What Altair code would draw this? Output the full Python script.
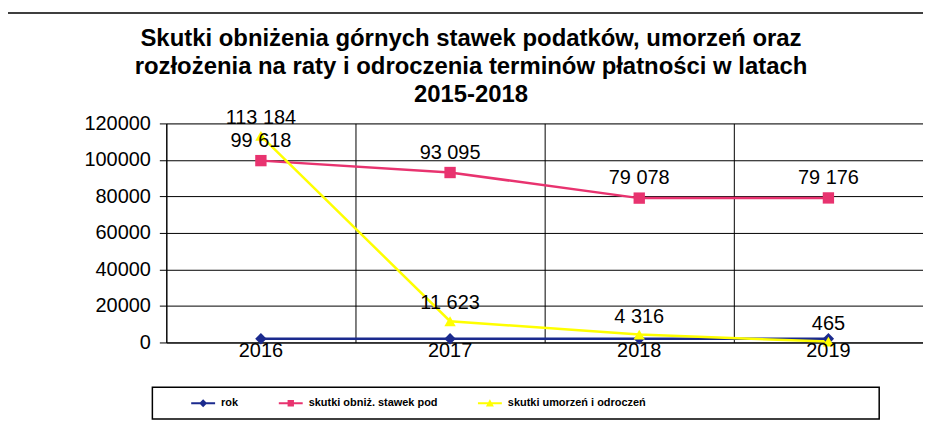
import altair as alt
import pandas as pd

years = ["2016", "2017", "2018", "2019"]
rok = [2016, 2017, 2018, 2019]
obniz = [99618, 93095, 79078, 79176]
umorz = [113184, 11623, 4316, 465]
series_names = ["rok", "skutki obniż. stawek pod", "skutki umorzeń i odroczeń"]
colors = ["#1b2a8e", "#e8336f", "#ffff00"]
shapes = ["diamond", "square", "triangle-up"]
legend_shapes = [
    "M-1.5,-0.12H1.5V0.12H-1.5ZM0,-0.5L0.5,0L0,0.5L-0.5,0Z",
    "M-1.5,-0.12H1.5V0.12H-1.5ZM-0.4,-0.4H0.4V0.4H-0.4Z",
    "M-1.5,-0.12H1.5V0.12H-1.5ZM0,-0.5L0.5,0.4L-0.5,0.4Z",
]
y_ticks = [0, 20000, 40000, 60000, 80000, 100000, 120000]
title_lines = [
    "Skutki obniżenia górnych stawek podatków, umorzeń oraz",
    "rozłożenia na raty i odroczenia terminów płatności w latach",
    "2015-2018",
]

rows = []
for name, vals in zip(series_names, [rok, obniz, umorz]):
    for yr, v in zip(years, vals):
        label = str(v) if name == "rok" else f"{v:,}".replace(",", " ")
        rows.append(dict(year=yr, series=name, value=v, label=label))
df = pd.DataFrame(rows)

FONT = "Liberation Sans"

x_enc = alt.X(
    "year:O",
    sort=years,
    scale=alt.Scale(type="band", paddingInner=0, paddingOuter=0),
    axis=alt.Axis(labels=False, ticks=False, title=None, grid=True,
                  gridColor="black", gridOpacity=1, gridWidth=1,
                  bandPosition=0, domainColor="black"),
)
y_enc = alt.Y(
    "value:Q",
    scale=alt.Scale(domain=[0, 120000], nice=False),
    axis=alt.Axis(values=y_ticks, format="d", title=None, labelFontSize=20,
                  labelFont=FONT, labelColor="black", gridColor="black",
                  gridOpacity=1, tickColor="black", tickSize=7,
                  labelPadding=9, domainColor="black"),
)
color_scale = alt.Scale(domain=series_names, range=colors)

legend = alt.Legend(
    orient="none", legendX=29, legendY=273, direction="horizontal", title=None,
    labelFont=FONT, labelFontSize=11, labelFontWeight="bold", labelColor="black",
    columnPadding=40, symbolSize=256, labelOffset=10, padding=0,
    symbolStrokeWidth=0, symbolOpacity=1,
)

border = alt.Chart(alt.Data(values=[{}])).mark_rect(
    fill="transparent", stroke="black", strokeWidth=1.5
).encode(x=alt.value(-160), x2=alt.value(800), y=alt.value(-111), y2=alt.value(330))

legend_box = alt.Chart(alt.Data(values=[{}])).mark_rect(
    fill="white", stroke="black", strokeWidth=1.5
).encode(x=alt.value(-14), x2=alt.value(716), y=alt.value(265), y2=alt.value(297))

base = alt.Chart(df)

color_enc = alt.Color("series:N", scale=color_scale, legend=legend, sort=series_names)

lines = base.mark_line(strokeWidth=2.5).encode(
    x=x_enc, y=y_enc, color=color_enc, detail="series:N",
)

point_layers = [
    base.transform_filter(alt.datum.series == name).mark_point(
        filled=True, size=130, opacity=1, shape=shp
    ).encode(x=x_enc, y=y_enc, color=color_enc)
    for name, shp in zip(series_names, shapes)
]

legend_layer = base.transform_filter("false").mark_point(filled=True, opacity=1).encode(
    x=x_enc, y=y_enc, color=color_enc,
    shape=alt.Shape("series:N", scale=alt.Scale(domain=series_names, range=legend_shapes),
                    legend=legend, sort=series_names),
)

def labels(name, dy):
    return base.transform_filter(alt.datum.series == name).mark_text(
        font=FONT, fontSize=20, color="black", dy=dy, baseline="middle"
    ).encode(x=x_enc, y=y_enc, text="label:N")

chart = alt.layer(
    border, legend_box, lines, *point_layers, legend_layer,
    labels(series_names[0], 12), labels(series_names[1], -20), labels(series_names[2], -18),
).properties(
    width=760, height=220,
    title=alt.TitleParams(title_lines, fontSize=24, fontWeight="bold", font=FONT,
                          anchor="middle", dx=-74, offset=-95, lineHeight=28, color="black"),
    autosize=alt.AutoSizeParams(type="none"),
    padding={"left": 159, "top": 115, "right": 0, "bottom": 85},
).configure_view(
    fill="#ccc8d3", stroke="black", strokeWidth=1
).configure(background="white")

chart.save("out.html", embed_options={"renderer": "svg", "actions": False})
